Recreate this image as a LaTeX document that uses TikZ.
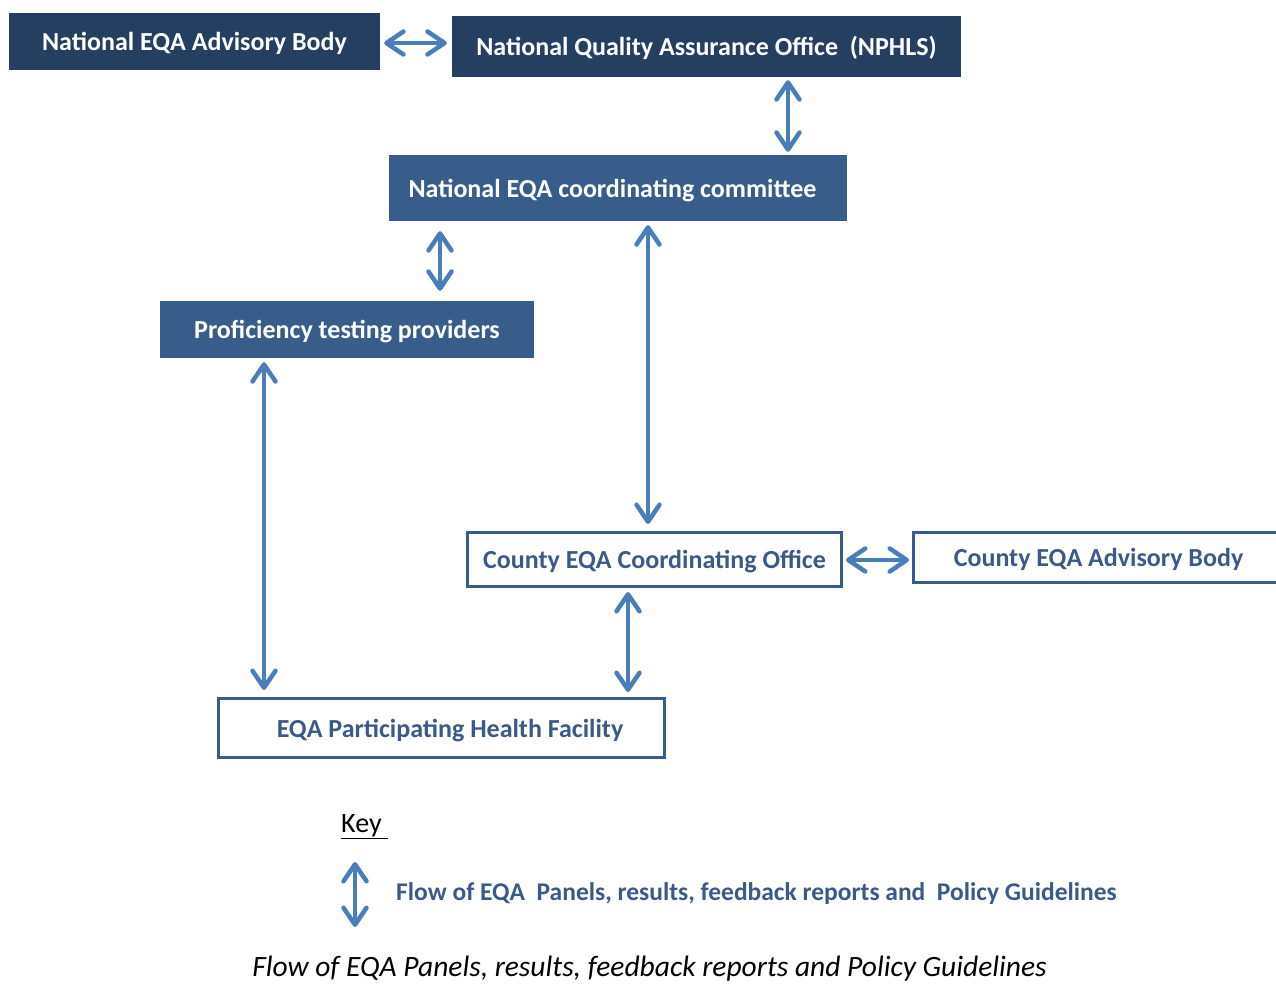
\documentclass[tikz,border=0pt]{standalone}
\usepackage{fontspec}
\setmainfont{Carlito}
\usetikzlibrary{arrows.meta}
\definecolor{navy}{RGB}{36,63,96}
\definecolor{midblue}{RGB}{56,93,138}
\definecolor{txtblue}{RGB}{59,89,137}
\definecolor{arrowc}{RGB}{74,126,187}
\tikzset{
  boxfont/.style={font=\fontsize{26}{30}\selectfont\bfseries, text height=23pt, text depth=5pt},
  darkbox/.style={fill=navy, text=white, inner sep=0pt, boxfont},
  midbox/.style={fill=midblue, text=white, inner sep=0pt, boxfont},
  whitebox/.style={draw=midblue, fill=white, line width=3pt, text=txtblue, inner sep=0pt, boxfont},
  flow/.style={draw=arrowc, line width=4.5pt,
    {Straight Barb[length=17pt,width=23pt,round]}-{Straight Barb[length=17pt,width=23pt,round]}}
}
\begin{document}
\begin{tikzpicture}[x=1pt,y=-1pt]
\useasboundingbox (0,0) rectangle (1276,983);
% boxes
\node[darkbox, minimum width=371pt, minimum height=57pt] (nab) at (194.5,41.5) {National EQA Advisory Body};
\node[darkbox, minimum width=509pt, minimum height=61pt] (nqa) at (706.5,46.5) {National Quality Assurance Office~~(NPHLS)};
\node[midbox, minimum width=458pt, minimum height=66pt] (ncc) at (618,188) {National EQA coordinating committee\hspace*{11pt}};
\node[midbox, minimum width=374pt, minimum height=57pt] (ptp) at (347,329.5) {Proficiency testing providers};
\node[whitebox, minimum width=374pt, minimum height=54pt] (ceco) at (654.5,559.5) {County EQA Coordinating Office};
\node[whitebox, minimum width=370pt, minimum height=50pt] (ceab) at (1098.5,557.5) {County EQA Advisory Body};
\node[whitebox, minimum width=446pt, minimum height=59pt] (phf) at (441.5,728) {\hspace*{17pt}EQA Participating Health Facility};
% helper coordinates
\coordinate (ya) at (0,43);
\coordinate (yg) at (0,560);
\coordinate (xb) at (788,0);
\coordinate (xc) at (440,0);
\coordinate (xd) at (648,0);
\coordinate (xe) at (264,0);
\coordinate (xf) at (628,0);
% connectors
\draw[flow, shorten <=4pt, shorten >=5pt] (nab.east |- ya) -- (nqa.west |- ya);
\draw[flow, shorten <=3pt, shorten >=3pt] (nqa.south -| xb) -- (ncc.north -| xb);
\draw[flow, shorten <=10pt, shorten >=10pt] (ncc.south -| xc) -- (ptp.north -| xc);
\draw[flow, shorten <=4pt, shorten >=7pt] (ncc.south -| xd) -- (ceco.north -| xd);
\draw[flow, shorten <=4pt, shorten >=7pt] (ptp.south -| xe) -- (phf.north -| xe);
\draw[flow, shorten <=4pt, shorten >=5pt] (ceco.south -| xf) -- (phf.north -| xf);
\draw[flow, shorten <=3pt, shorten >=3pt] (ceco.east |- yg) -- (ceab.west |- yg);
% key
\node[anchor=south west, inner sep=0pt, font=\fontsize{28}{32}\selectfont] (key) at (341,839) {\underline{Key\ }};
\coordinate (k1) at (355,862);
\coordinate (k2) at (355,927);
\draw[flow] (k1) -- (k2);
\node[anchor=west, inner sep=0pt, text=txtblue, font=\fontsize{25.5}{30}\selectfont\bfseries] (keylbl) at (396,894) {Flow of EQA~ Panels, results, feedback reports and~ Policy Guidelines};
\node[inner sep=0pt, font=\fontsize{29.5}{34}\selectfont\itshape] (cap) at (649.5,969) {Flow of EQA Panels, results, feedback reports and Policy Guidelines};
\end{tikzpicture}
\end{document}
